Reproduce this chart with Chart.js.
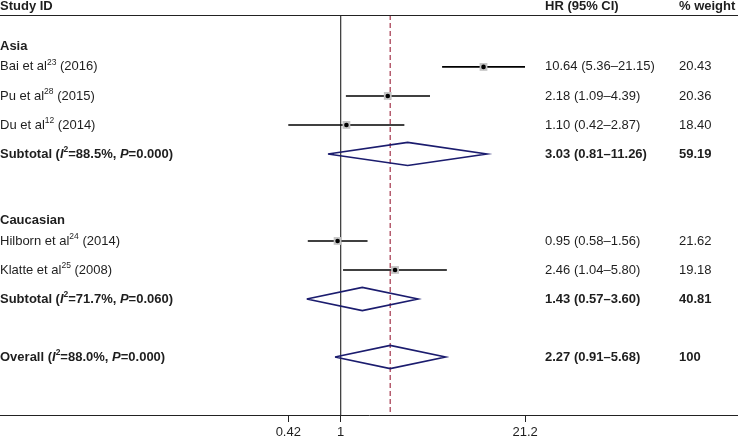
<!DOCTYPE html>
<html>
<head>
<meta charset="utf-8">
<script src="https://cdn.jsdelivr.net/npm/chart.js@4/dist/chart.umd.min.js"></script>
<style>
  html, body { margin: 0; padding: 0; background: #fff; }
  #wrap { width: 738px; height: 439px; }
</style>
</head>
<body>
<div id="wrap"><canvas id="forest"></canvas></div>
<script>
// Données des études (^..^ = exposant, _.._ = italique)
const studyLabels = ['Bai et al^23^ (2016)', 'Pu et al^28^ (2015)', 'Du et al^12^ (2014)', 'Hilborn et al^24^ (2014)', 'Klatte et al^25^ (2008)'];
const studyHR = [10.64, 2.18, 1.10, 0.95, 2.46];
const studyLo = [5.36, 1.09, 0.42, 0.58, 1.04];
const studyHi = [21.15, 4.39, 2.87, 1.56, 5.80];
const studyWeight = [20.43, 20.36, 18.40, 21.62, 19.18];
const studyRows = [0, 1, 2, 6, 7];

// Estimations groupées
const pooledLabels = ['Subtotal (_I_^2^=88.5%, _P_=0.000)', 'Subtotal (_I_^2^=71.7%, _P_=0.060)', 'Overall (_I_^2^=88.0%, _P_=0.000)'];
const pooledHR = [3.03, 1.43, 2.27];
const pooledLo = [0.81, 0.57, 0.91];
const pooledHi = [11.26, 3.60, 5.68];
const pooledWeight = [59.19, 40.81, 100];
const pooledRows = [3, 8, 10];

const groupLabels = ['Asia', 'Caucasian'];
const groupRows = [-0.72, 5.28];

const xTicks = [0.42, 1, 21.2];
const overallHR = pooledHR[2];

const fmt = v => v.toFixed(2);
const FONT = '"Liberation Sans", Arial, sans-serif';
const TXT = '#1e1e1e';

// Lignes des IC
const ciSets = studyRows.map((r, i) => ({
    type: 'line',
    order: 4,
    data: [{x: studyLo[i], y: r}, {x: studyHi[i], y: r}],
    borderColor: '#000',
    borderWidth: 1.6,
    pointRadius: 0
}));

// Losanges
const diamondSets = pooledRows.map((r, i) => ({
    type: 'line',
    order: 3,
    data: [
        {x: pooledLo[i], y: r}, {x: pooledHR[i], y: r - 0.4},
        {x: pooledHi[i], y: r}, {x: pooledHR[i], y: r + 0.4},
        {x: pooledLo[i], y: r}
    ],
    borderColor: '#1b1c6e',
    borderWidth: 1.6,
    pointRadius: 0,
    tension: 0
}));

function drawRich(ctx, x, y, text, bold) {
    const parts = text.split(/(\^[^^]*\^|_[^_]*_)/).filter(s => s.length);
    const segs = parts.map(p => {
        if (p[0] === '^') return {t: p.slice(1, -1), sup: true};
        if (p[0] === '_') return {t: p.slice(1, -1), it: true};
        return {t: p};
    });
    const fontOf = s => (s.it ? 'italic ' : '') + (bold ? 'bold ' : '') + (s.sup ? '8.5px ' : '13px ') + FONT;
    let cx = x;
    ctx.textBaseline = 'middle';
    ctx.textAlign = 'left';
    segs.forEach(s => {
        ctx.font = fontOf(s);
        ctx.fillText(s.t, cx, s.sup ? y - 4 : y);
        cx += ctx.measureText(s.t).width;
    });
}

const textPlugin = {
    id: 'forestText',
    afterDraw(chart) {
        const ctx = chart.ctx;
        const y = chart.scales.y;
        const area = chart.chartArea;
        ctx.save();
        ctx.fillStyle = TXT;
        // en-tête
        const hy = y.getPixelForValue(-2.1);
        drawRich(ctx, 0, hy, 'Study ID', true);
        drawRich(ctx, 545, hy, 'HR (95% CI)', true);
        drawRich(ctx, 679, hy, '% weight', true);
        ctx.strokeStyle = '#222';
        ctx.lineWidth = 1;
        ctx.beginPath();
        ctx.moveTo(0, area.top + 0.5);
        ctx.lineTo(chart.width, area.top + 0.5);
        ctx.stroke();

        groupLabels.forEach((g, i) => drawRich(ctx, 0, y.getPixelForValue(groupRows[i]), g, true));
        studyLabels.forEach((s, i) => {
            const py = y.getPixelForValue(studyRows[i]);
            drawRich(ctx, 0, py, s, false);
            drawRich(ctx, 545, py, fmt(studyHR[i]) + ' (' + fmt(studyLo[i]) + '\u2013' + fmt(studyHi[i]) + ')', false);
            drawRich(ctx, 679, py, fmt(studyWeight[i]), false);
        });
        pooledLabels.forEach((s, i) => {
            const py = y.getPixelForValue(pooledRows[i]);
            drawRich(ctx, 0, py, s, true);
            drawRich(ctx, 545, py, fmt(pooledHR[i]) + ' (' + fmt(pooledLo[i]) + '\u2013' + fmt(pooledHi[i]) + ')', true);
            const w = pooledWeight[i] === 100 ? '100' : fmt(pooledWeight[i]);
            drawRich(ctx, 679, py, w, true);
        });
        ctx.restore();
    }
};

const ctx = document.getElementById('forest').getContext('2d');
const forestChart = new Chart(ctx, {
    data: {
        datasets: [
            {
                type: 'line',
                order: 6,
                data: [{x: 1, y: -1.79}, {x: 1, y: 12}],
                borderColor: '#333',
                borderWidth: 1.2,
                pointRadius: 0
            },
            {
                type: 'line',
                order: 5,
                data: [{x: overallHR, y: -1.79}, {x: overallHR, y: 12}],
                borderColor: '#a3344a',
                borderWidth: 1.2,
                borderDash: [5, 3],
                pointRadius: 0
            },
            ...ciSets,
            ...diamondSets,
            {
                type: 'scatter',
                order: 2,
                data: studyRows.map((r, i) => ({x: studyHR[i], y: r})),
                pointStyle: 'rect',
                pointRadius: 5.5,
                backgroundColor: '#c4c4c4',
                borderWidth: 0
            },
            {
                type: 'scatter',
                order: 1,
                data: studyRows.map((r, i) => ({x: studyHR[i], y: r})),
                pointRadius: 2.3,
                backgroundColor: '#000',
                borderWidth: 0
            }
        ]
    },
    options: {
        responsive: true,
        maintainAspectRatio: false,
        animation: false,
        layout: { autoPadding: false, padding: { top: 15, left: 0, right: 0, bottom: 0 } },
        plugins: {
            legend: { display: false },
            tooltip: { enabled: false }
        },
        scales: {
            x: {
                type: 'logarithmic',
                min: 0.003552,
                max: 719,
                afterBuildTicks: axis => { axis.ticks = xTicks.map(v => ({value: v})); },
                afterFit: axis => { axis.height = 24; },
                ticks: {
                    autoSkip: false,
                    maxRotation: 0,
                    padding: 3,
                    color: TXT,
                    font: { family: FONT, size: 13 },
                    callback: v => String(v)
                },
                grid: { drawOnChartArea: false, drawTicks: true, tickLength: 7, color: '#222' },
                border: { display: true, color: '#222', width: 1 }
            },
            y: {
                type: 'linear',
                display: false,
                reverse: true,
                min: -1.79,
                max: 12
            }
        }
    },
    plugins: [textPlugin]
});
</script>
</body>
</html>
